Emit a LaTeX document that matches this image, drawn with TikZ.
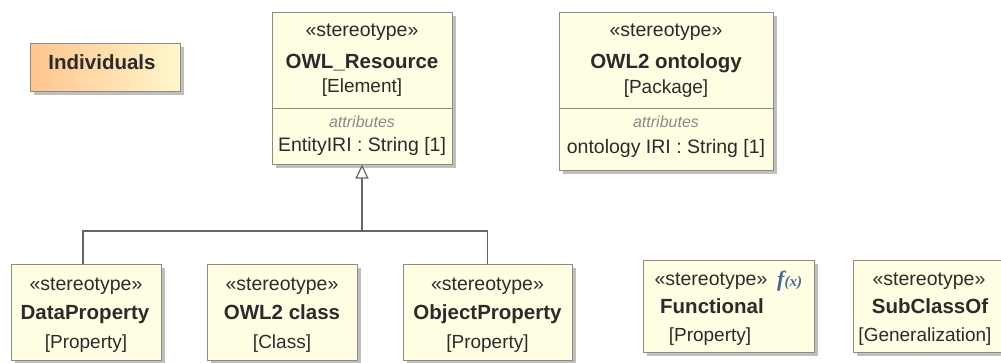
\documentclass[tikz,border=0pt]{standalone}
\usepackage{fontspec}
\setmainfont{Liberation Sans}
\newfontfamily\fxfont{Liberation Serif}
\usetikzlibrary{shadows,arrows.meta}
\definecolor{boxfill}{HTML}{FFFEE2}
\definecolor{boxline}{HTML}{8C8C82}
\definecolor{txt}{HTML}{2B2B2B}
\definecolor{attrgray}{HTML}{8A8A8A}
\definecolor{connector}{HTML}{666666}
\definecolor{indleft}{HTML}{FFC58C}
\definecolor{indright}{HTML}{FFF6CC}
\definecolor{fxblue}{HTML}{46669A}
\tikzset{
  umlbox/.style={draw=boxline, line width=1pt, fill=boxfill, inner sep=0,
    drop shadow={shadow xshift=4pt, shadow yshift=-4pt, fill=black!50, opacity=.5}},
  stereo/.style={font=\fontsize{19.5}{19.5}\selectfont, text=txt, anchor=base, inner sep=0},
  clname/.style={font=\fontsize{20.5}{20.5}\selectfont\bfseries, text=txt, anchor=base, inner sep=0},
  meta/.style={font=\fontsize{19}{19}\selectfont, text=txt, anchor=base, inner sep=0},
  attrhead/.style={font=\fontsize{16}{16}\selectfont\itshape, text=attrgray, anchor=base, inner sep=0},
  attrval/.style={font=\fontsize{19.5}{19.5}\selectfont, text=txt, anchor=base, inner sep=0},
  divider/.style={draw=boxline, line width=1pt},
  gen/.style={draw=connector, line width=1.2pt},
}
\begin{document}
\begin{tikzpicture}[x=1pt, y=-1pt]
\useasboundingbox[fill=white] (0,0) rectangle (1001,362);

% Individuals (shaded box)
\node[draw=boxline, line width=1pt, left color=indleft, right color=indright, inner sep=0,
      drop shadow={shadow xshift=4pt, shadow yshift=-4pt, fill=black!50, opacity=.5},
      minimum width=150pt, minimum height=48pt] (ind) at (105,67) {};
\node[clname] (indlbl) at (102,69) {Individuals};

% OWL_Resource
\node[umlbox, minimum width=180pt, minimum height=152pt] (res) at (362,88) {};
\node[stereo] (resst) at (362,36) {«stereotype»};
\node[clname] (resnm) at (362,68) {OWL\_Resource};
\node[meta] (resmt) at (362,92) {[Element]};
\coordinate (resdiv) at (0,108);
\draw[divider] (res.west |- resdiv) -- (res.east |- resdiv);
\node[attrhead] (resah) at (362,127) {attributes};
\node[attrval] (resav) at (362,151) {EntityIRI : String [1]};

% OWL2 ontology
\node[umlbox, minimum width=214pt, minimum height=158pt] (ont) at (666,91) {};
\node[stereo] (ontst) at (666,36) {«stereotype»};
\node[clname] (ontnm) at (666,68) {OWL2 ontology};
\node[meta] (ontmt) at (666,93) {[Package]};
\coordinate (ontdiv) at (0,108);
\draw[divider] (ont.west |- ontdiv) -- (ont.east |- ontdiv);
\node[attrhead] (ontah) at (666,127) {attributes};
\node[attrval] (ontav) at (666,153) {ontology IRI : String [1]};

% Specialisations of OWL_Resource
\node[umlbox, minimum width=150pt, minimum height=96pt] (dp) at (86,312) {};
\node[stereo] (dpst) at (86,290) {«stereotype»};
\node[clname] (dpnm) at (85,319) {DataProperty};
\node[meta] (dpmt) at (86,348) {[Property]};

\node[umlbox, minimum width=150pt, minimum height=96pt] (cls) at (282,312) {};
\node[stereo] (clsst) at (282,290) {«stereotype»};
\node[clname] (clsnm) at (282,319) {OWL2 class};
\node[meta] (clsmt) at (282,348) {[Class]};

\node[umlbox, minimum width=169pt, minimum height=96pt] (op) at (487.5,312) {};
\node[stereo] (opst) at (487.5,290) {«stereotype»};
\node[clname] (opnm) at (487.5,319) {ObjectProperty};
\node[meta] (opmt) at (487.5,348) {[Property]};

% Standalone stereotypes
\node[umlbox, minimum width=171pt, minimum height=92pt] (fn) at (728.5,306) {};
\node[stereo] (fnst) at (711,285) {«stereotype»};
\node[text=fxblue, anchor=base west, inner sep=0] (fnicon) at (777,286)
  {\fxfont\bfseries\itshape\fontsize{22}{22}\selectfont f\fontsize{15}{15}\selectfont(x)};
\node[clname] (fnnm) at (712,313) {Functional};
\node[meta] (fnmt) at (710,341) {[Property]};

\node[umlbox, minimum width=150pt, minimum height=92pt] (sco) at (928,306) {};
\node[stereo] (scost) at (929,285) {«stereotype»};
\node[clname] (sconm) at (930,313) {SubClassOf};
\node[meta] (scomt) at (925,341) {[Generalization]};

% Generalisation tree
\coordinate (junction) at (362,231);
\draw[gen] (dp.north -| 83,0) |- (junction);
\draw[gen] (op.north) |- (junction);
\draw[gen] (cls.north -| 285,0) -- (cls.north -| 285,0 |- junction);
\draw[gen, -{Triangle[open, length=14pt, width=13pt, line width=1.2pt]}] (junction) -- (res.south);
\end{tikzpicture}
\end{document}
